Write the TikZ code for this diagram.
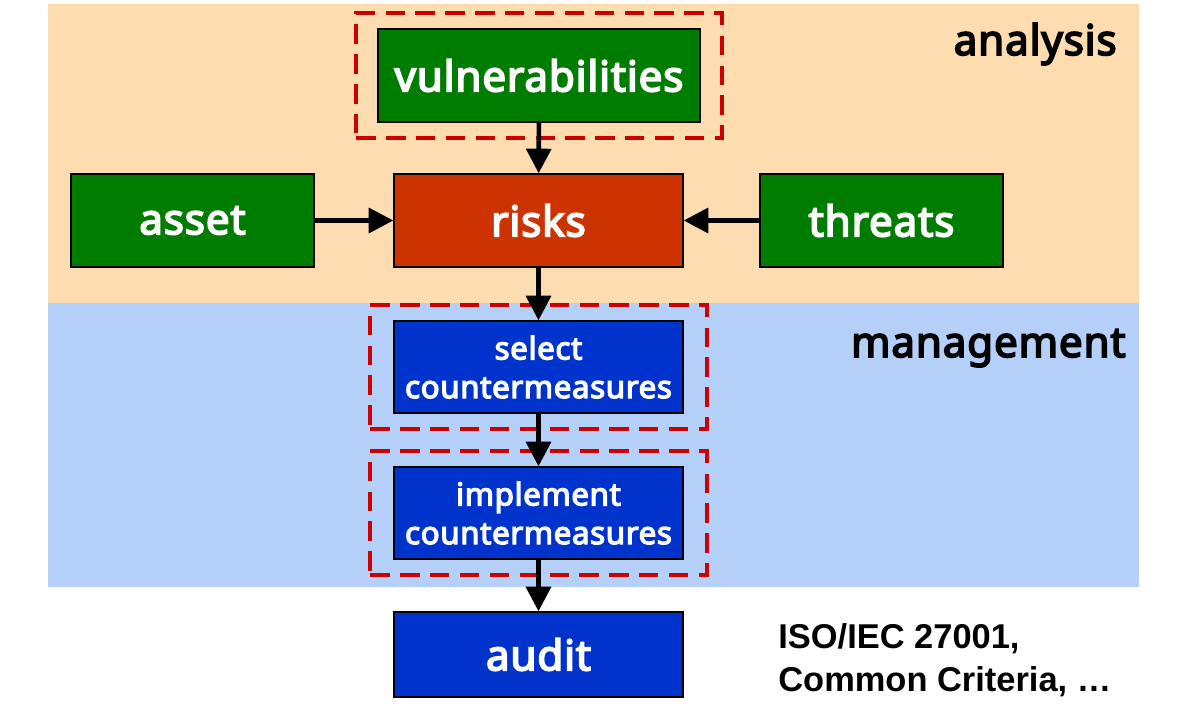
\documentclass[tikz,border=0pt]{standalone}
\usepackage{fontspec}
\setmainfont{Noto Sans}[BoldFont={Noto Sans}, BoldFeatures={FakeBold=4, LetterSpace=2}]
\newfontfamily\isofont{Liberation Sans}
\usetikzlibrary{arrows.meta,fit}

\definecolor{peachbg}{HTML}{FDDCB0}
\definecolor{bluebg}{HTML}{B4CFF8}
\definecolor{assetgreen}{HTML}{007D00}
\definecolor{riskred}{HTML}{CC3300}
\definecolor{stepblue}{HTML}{0033CC}
\definecolor{dashred}{HTML}{CC0000}

\tikzset{
    box/.style={draw=black, line width=0.8pt, text=white, font=\bfseries, align=center,
        minimum width=5.78cm, minimum height=1.86cm, inner sep=0pt},
    greenbox/.style={box, fill=assetgreen, font=\fontsize{24}{26}\selectfont\bfseries},
    riskbox/.style={box, fill=riskred, font=\fontsize{24}{26}\selectfont\bfseries},
    bluebox/.style={box, fill=stepblue, font=\fontsize{17.8}{22}\selectfont\bfseries},
    dashbox/.style={draw=dashred, line width=2.2pt, dash pattern=on 11pt off 6pt,
        inner xsep=0.46cm, inner ysep=0.3cm},
    flow/.style={line width=2.6pt, -{Triangle[length=14pt,width=14pt]}},
    phase/.style={font=\fontsize{24}{26}\selectfont\bfseries, text=black, inner sep=0pt}
}

\begin{document}
\begin{tikzpicture}[x=0.02cm, y=-0.02cm]
    \useasboundingbox (0,0) rectangle (1185,708);
    \fill[peachbg] (48,4) rectangle (1139,303);
    \fill[bluebg] (48,303) rectangle (1139,587);

    \node[phase, anchor=base east] (analysis) at (1117,55) {analysis};
    \node[phase, anchor=base east] (management) at (1126,357) {management};

    \node[greenbox, minimum width=6.44cm] (vuln) at (539,75.5) {vulnerabilities};
    \node[greenbox, minimum width=4.86cm] (asset) at (192.5,220.5) {asset};
    \node[riskbox] (risks) at (538.5,220.5) {risks};
    \node[greenbox, minimum width=4.86cm] (threats) at (881.5,220.5) {threats};
    \node[bluebox, minimum height=1.84cm] (select) at (538.5,367) {select\\countermeasures};
    \node[bluebox, minimum height=1.84cm] (implement) at (538.5,513) {implement\\countermeasures};
    \node[bluebox, minimum height=1.70cm, font=\fontsize{24}{26}\selectfont\bfseries] (audit) at (538.5,654.5) {audit};

    \node[dashbox, inner xsep=0.42cm, fit=(vuln)] (vulnframe) {};
    \node[dashbox, fit=(select)] (selectframe) {};
    \node[dashbox, fit=(implement)] (implementframe) {};

    \draw[flow] (vuln) -- (risks);
    \draw[flow] (asset) -- (risks);
    \draw[flow] (threats) -- (risks);
    \draw[flow] (risks) -- (select);
    \draw[flow] (select) -- (implement);
    \draw[flow] (implement) -- (audit);

    \node[anchor=north west, align=left, inner sep=0pt,
        font=\isofont\fontsize{19.6}{24.4}\selectfont\bfseries] (iso) at (778,623)
        {ISO/IEC 27001,\\Common Criteria, …};
\end{tikzpicture}
\end{document}
